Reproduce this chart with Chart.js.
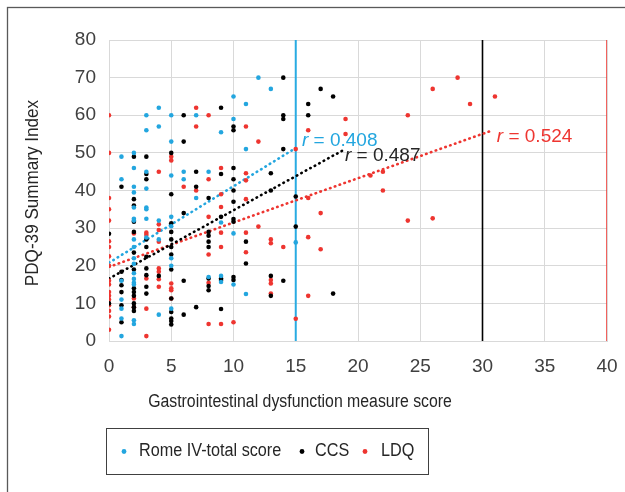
<!DOCTYPE html>
<html>
<head>
<meta charset="utf-8">
<script src="https://cdn.jsdelivr.net/npm/chart.js@4.4.1/dist/chart.umd.min.js"></script>
<style>
  html, body { margin: 0; padding: 0; background: #fff; }
  #wrap { position: relative; width: 625px; height: 492px; }
</style>
</head>
<body>
<div id="wrap"><canvas id="chart" width="625" height="492"></canvas></div>
<script>
// Scatter data (x = GI dysfunction score, y = PDQ-39 SI)
const romeX = [1,1,1,1,1,1,1, 2,2,2,2,2,2,2,2,2,2,2,2,2,2,2,2,2, 3,3,3,3,3,3,3,3, 4,4,4,4,4, 5,5,5,5,5,5,5,5, 6,6, 7,7, 8,8, 9,9,9,9, 10,10,10,10, 11,11,11, 12, 13, 15];
const romeY = [49,43,16,11,8.6,6,1.3, 50,46,41,39.5,35.5,32.5,32,27,25,22,20.5,18,16.5,15.5,15,5.5,4.5, 60,56,45,40.5,35.5,35,32.5,27.5, 62,57,32,27,7, 60,53,44,33,30.5,22,20,8.6, 45,43, 60,38, 45,17, 55.5,31.5,17.3,15.7, 65,59,28.6,15, 63,51,12.5, 70, 67, 26.2];

const ccsX = [0,0, 1,1,1,1,1,1,1, 2,2,2,2,2,2,2,2,2,2,2,2,2, 3,3,3,3,3,3,3,3,3,3, 4, 5,5,5,5,5,5,5,5,5,5,5,5,5, 6,6,6,6,6, 7,7,7, 8,8,8,8,8,8,8,8, 9,9,9,9,9,9, 10,10,10,10,10,10,10,10,10,10, 11,11, 13,13,13,13, 14,14,14,14,14, 15,15, 16,16, 17, 18,18];
const ccsY = [28.5,10, 41,18.4,16.2,14.8,13,9.5,5, 49,37.7,36,31.7,29,23.5,19,14,13,12,10,9,8, 49,44.4,43,27,25,22.4,19.3,17.5,14.4,12.6, 17.3, 50,39,31.3,29,27,25,23,19,11.3,7.7,6,5.3,4.4, 60,53,34,16,7, 45,41,9, 38,29,28,26.4,25,16.6,14.6,13.5, 62,44.4,33,16.6,16.2,8.5, 57,56,46,43,40,37,32.4,31.7,17,16.2, 26.4,20.6, 44.6,40,17.3,12, 70,60,59,51,16, 38.4,30.4, 63,60, 67, 65,12.6];

const ldqX = [0,0,0,0,0,0,0,0,0,0,0,0,0,0,0,0,0,0, 2,2,2, 3,3,3,3,3, 4,4,4,4,4,4,4,4, 5,5,5,5,5,5, 6, 7,7,7, 8,8,8,8,8,8, 9,9,9,9,9,9, 10, 11,11,11,11,11,11, 12,12, 13,13,13,13,13, 14, 15,15, 16,16,16,16, 17,17, 19,19, 21, 22,22, 24,24, 26,26, 28, 29, 31];
const ldqY = [60,50,38,35,32,26.5,25,22.5,20,16,15,13,12,11,9.5,8,6.5,3, 28.6,11.3,9, 28.8,28.2,16.6,8.6,1.3, 45,31,29.5,26.4,19.3,18.4,16.4,14.4, 49,48,15.3,14,13.5,11.3, 41, 62,57,40, 60,43,33,23,15.5,4.5, 46,39,35.6,28.8,25,4.5, 5, 57,44.6,42.7,37.7,28.8,23.6, 53,30.4, 27,26,16.2,15.3,12.6, 25, 51,5.9, 56,38,27.6,12, 34,24.4, 59,55, 44, 45,40, 60,32, 67,32.6, 70, 63, 65];

// Dotted linear trend lines (end points as drawn)
const romeTrendX = [0, 15];
const romeTrendY = [20.8, 51.3];
const ccsTrendX = [0, 18.8];
const ccsTrendY = [16.6, 50.7];
const ldqTrendX = [0, 30.8];
const ldqTrendY = [19.7, 56];

// Vertical cut-off lines: Rome IV, CCS, LDQ
const cutoffX = [15, 30, 40];
const cutoffSpan = [0, 80];

// Correlation labels
const rLabels = ['0.408', '0.487', '0.524'];
const rLabelX = [15.5, 18.95, 31.15];
const rLabelY = [53.3, 49.2, 54.2];

const seriesNames = ['Rome IV-total score', 'CCS', 'LDQ'];
const seriesColors = ['#23a6df', '#000000', '#ee3530'];

const xTitle = 'Gastrointestinal dysfunction measure score';
const yTitle = 'PDQ-39 Summary Index';

const pts = (xs, ys) => xs.map((x, i) => ({ x: x, y: ys[i] }));

// text squeezed horizontally, like the original export
function squeezed(ctx, text, x, y, opts) {
    ctx.save();
    ctx.translate(x, y);
    if (opts.rotate) ctx.rotate(opts.rotate);
    ctx.scale(opts.sx || 1, 1);
    ctx.font = opts.font;
    ctx.fillStyle = opts.color || '#262626';
    ctx.textAlign = opts.align || 'left';
    ctx.textBaseline = 'middle';
    ctx.fillText(text, 0, 0);
    ctx.restore();
}

const decorations = {
    id: 'decorations',
    beforeDraw(chart) {
        const ctx = chart.ctx;
        ctx.save();
        ctx.strokeStyle = '#595959';
        ctx.lineWidth = 1.3;
        ctx.strokeRect(7.5, 7.5, 700, 600);
        ctx.restore();
    },
    afterDraw(chart) {
        const ctx = chart.ctx;
        const xs = chart.scales.x, ys = chart.scales.y;
        const font = '18px "Liberation Sans", Arial, sans-serif';

        // axis titles
        squeezed(ctx, yTitle, 33, 193, { font: font, align: 'center', rotate: -Math.PI / 2, sx: 0.95 });
        squeezed(ctx, xTitle, 300, 402, { font: font, align: 'center', sx: 0.88 });

        // r labels
        for (let i = 0; i < rLabels.length; i++) {
            const px = xs.getPixelForValue(rLabelX[i]);
            const py = ys.getPixelForValue(rLabelY[i]);
            ctx.save();
            ctx.fillStyle = seriesColors[i] === '#000000' ? '#262626' : seriesColors[i];
            ctx.textBaseline = 'middle';
            ctx.textAlign = 'left';
            ctx.font = 'italic 19px "Liberation Sans", Arial, sans-serif';
            ctx.fillText('r', px, py);
            const w = ctx.measureText('r').width;
            ctx.font = '19px "Liberation Sans", Arial, sans-serif';
            ctx.fillText(' = ' + rLabels[i], px + w, py);
            ctx.restore();
        }

        // legend box
        ctx.save();
        ctx.strokeStyle = '#404040';
        ctx.lineWidth = 1;
        ctx.strokeRect(106.5, 428.5, 322, 46);
        const dotX = [124, 302, 365];
        const textX = [139, 315, 381];
        for (let i = 0; i < seriesNames.length; i++) {
            ctx.beginPath();
            ctx.fillStyle = seriesColors[i];
            ctx.arc(dotX[i], 451.5, 2.4, 0, Math.PI * 2);
            ctx.fill();
            squeezed(ctx, seriesNames[i], textX[i], 451.5, { font: font, sx: 0.9 });
        }
        ctx.restore();
    }
};

function scatterSet(label, data, color) {
    return {
        type: 'scatter', label: label, data: data,
        backgroundColor: color, borderColor: color,
        pointRadius: 2.3, pointBorderWidth: 0, pointHoverRadius: 2.3,
        order: 1
    };
}

function trendSet(data, color) {
    return {
        type: 'line', data: data,
        borderColor: color, borderWidth: 2.6,
        borderDash: [0.5, 4.6], borderCapStyle: 'round',
        pointRadius: 0, fill: false, tension: 0,
        order: 2
    };
}

function cutoffSet(x, color, width) {
    return {
        type: 'line', data: cutoffSpan.map(y => ({ x: x, y: y })),
        borderColor: color, borderWidth: width,
        pointRadius: 0, fill: false,
        order: 3
    };
}

const tickFont = { family: '"Liberation Sans", Arial, sans-serif', size: 19 };

new Chart(document.getElementById('chart'), {
    type: 'scatter',
    data: {
        datasets: [
            scatterSet(seriesNames[0], pts(romeX, romeY), seriesColors[0]),
            scatterSet(seriesNames[1], pts(ccsX, ccsY), seriesColors[1]),
            scatterSet(seriesNames[2], pts(ldqX, ldqY), seriesColors[2]),
            trendSet(pts(romeTrendX, romeTrendY), seriesColors[0]),
            trendSet(pts(ccsTrendX, ccsTrendY), seriesColors[1]),
            trendSet(pts(ldqTrendX, ldqTrendY), seriesColors[2]),
            cutoffSet(cutoffX[0], '#29abe2', 2),
            cutoffSet(cutoffX[1], '#000000', 1.6),
            cutoffSet(cutoffX[2], '#ef3b36', 1.6)
        ]
    },
    options: {
        responsive: false,
        animation: false,
        events: [],
        layout: { padding: { top: 40, right: 18, left: 0, bottom: 0 } },
        plugins: { legend: { display: false }, tooltip: { enabled: false } },
        scales: {
            x: {
                type: 'linear', min: 0, max: 40,
                ticks: { stepSize: 5, font: tickFont, color: '#404040', padding: 14 },
                grid: { color: '#d9d9d9', lineWidth: 1, drawTicks: false },
                border: { color: '#d9d9d9' },
                afterFit: s => { s.height = 151; s.paddingLeft = 0; s.paddingRight = 0; }
            },
            y: {
                type: 'linear', min: 0, max: 80,
                ticks: { stepSize: 10, font: tickFont, color: '#404040', padding: 13 },
                grid: { color: '#d9d9d9', lineWidth: 1, drawTicks: false },
                border: { color: '#d9d9d9' },
                afterFit: s => { s.width = 109; s.paddingTop = 0; s.paddingBottom = 0; }
            }
        }
    },
    plugins: [decorations]
});
</script>
</body>
</html>
